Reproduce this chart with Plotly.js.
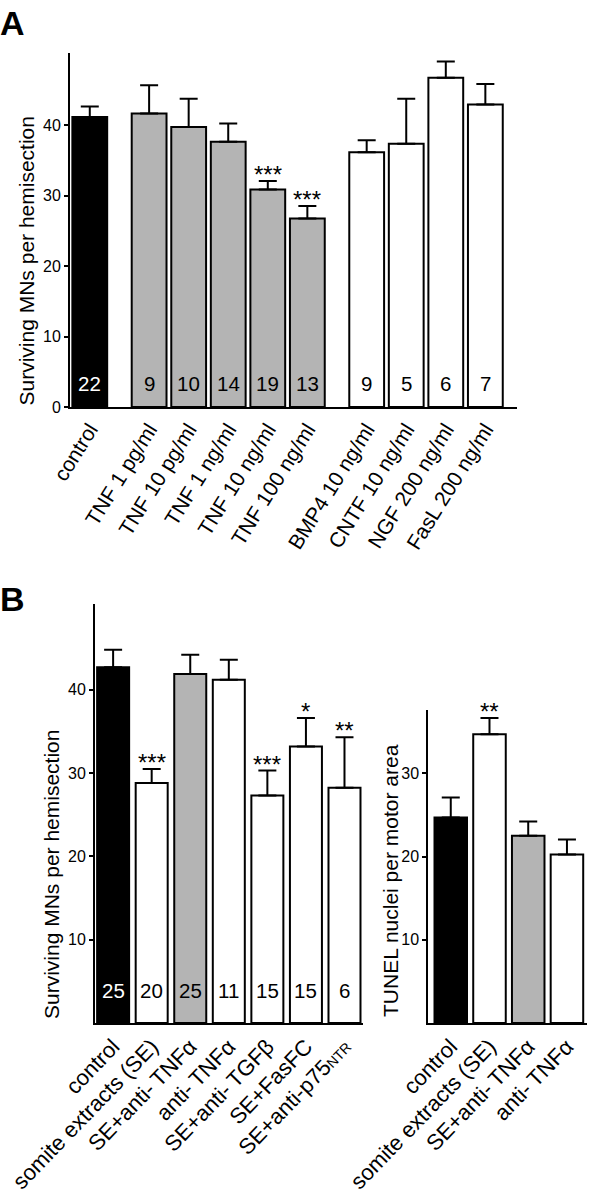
<!DOCTYPE html>
<html>
<head>
<meta charset="utf-8">
<script src="https://cdn.plot.ly/plotly-3.0.1.min.js"></script>
<style>html,body{margin:0;padding:0;background:#fff;}#chart{width:600px;height:1200px;}</style>
</head>
<body>
<div id="chart"></div>
<script>
// ---------- DATA ----------
// Panel A
const catA = ['control', 'TNF 1 pg/ml', 'TNF 10 pg/ml', 'TNF 1 ng/ml', 'TNF 10 ng/ml', 'TNF 100 ng/ml',
              'BMP4 10 ng/ml', 'CNTF 10 ng/ml', 'NGF 200 ng/ml', 'FasL 200 ng/ml'];
const groupA = ['control', 'TNF', 'TNF', 'TNF', 'TNF', 'TNF', 'other', 'other', 'other', 'other'];
const meanA = [41.2, 41.7, 39.8, 37.7, 30.9, 26.8, 36.2, 37.4, 46.8, 43.0];
const semA = [1.5, 4.0, 4.0, 2.6, 1.2, 1.75, 1.7, 6.4, 2.3, 2.9];
const nA = [22, 9, 10, 14, 19, 13, 9, 5, 6, 7];
const sigA = ['', '', '', '', '***', '***', '', '', '', ''];

// Panel B, left
const catB = ['control', 'somite extracts (SE)', 'SE+anti-\u2009TNFα', 'anti-\u2009TNFα', 'SE+anti-\u2009TGFβ', 'SE+FasFC',
              'SE+anti-p75<span style="font-size:14px">NTR</span>'];
const groupB = ['control', 'SE', 'SE+antiTNF', 'other', 'other', 'other', 'other'];
const meanB = [42.7, 28.8, 41.9, 41.2, 27.3, 33.2, 28.25];
const semB = [2.1, 1.7, 2.3, 2.4, 3.0, 3.4, 6.05];
const nB = [25, 20, 25, 11, 15, 15, 6];
const sigB = ['', '***', '', '', '***', '*', '**'];

// Panel B, right
const catC = ['control', 'somite extracts (SE)', 'SE+anti-\u2009TNFα', 'anti-\u2009TNFα'];
const groupC = ['control', 'SE', 'SE+antiTNF', 'other'];
const meanC = [24.7, 34.7, 22.5, 20.25];
const semC = [2.4, 1.95, 1.7, 1.8];
const sigC = ['', '**', '', ''];

const yTitleA = 'Surviving MNs per hemisection';
const yTitleC = 'TUNEL nuclei per motor area';

// ---------- STYLE ----------
const FONT = 'Liberation Sans, Arial, Helvetica, sans-serif';
const fillOf = {control: '#000000', TNF: '#b4b4b4', 'SE+antiTNF': '#b4b4b4', SE: '#ffffff', other: '#ffffff'};
const textOf = {control: '#ffffff', TNF: '#000000', 'SE+antiTNF': '#000000', SE: '#000000', other: '#000000'};

// positions: a half-slot gap wherever the group changes (panel A)
function gappedPositions(groups) {
  let shift = 0;
  return groups.map((g, i) => {
    if (i > 0 && groups[i - 1] !== g) shift += 0.5;
    return i + shift;
  });
}
const posA = gappedPositions(groupA);
const posB = catB.map((_, i) => i);
const posC = catC.map((_, i) => i);

function barTrace(pos, mean, sem, groups, xa, ya, w) {
  return {
    type: 'bar', x: pos, y: mean, xaxis: xa, yaxis: ya, width: w,
    marker: {color: groups.map(g => fillOf[g]), line: {color: '#000', width: 2}},
    error_y: {type: 'data', symmetric: false, array: sem, arrayminus: sem.map(() => 0),
              color: '#000', thickness: 2, width: 9},
    hoverinfo: 'skip'
  };
}

const data = [
  barTrace(posA, meanA, semA, groupA, 'x', 'y', 0.88),
  barTrace(posB, meanB, semB, groupB, 'x2', 'y2', 0.83),
  barTrace(posC, meanC, semC, groupC, 'x3', 'y3', 0.84)
];

const annotations = [];
// n labels
nA.forEach((n, i) => annotations.push({xref: 'x', yref: 'y', x: posA[i], y: 3.4, text: String(n), showarrow: false,
  yanchor: 'middle', font: {family: FONT, size: 20.5, color: textOf[groupA[i]]}}));
nB.forEach((n, i) => annotations.push({xref: 'x2', yref: 'y2', x: posB[i], y: 3.96, text: String(n), showarrow: false,
  yanchor: 'middle', font: {family: FONT, size: 20.5, color: textOf[groupB[i]]}}));
// significance stars
function stars(sig, pos, mean, sem, xa, ya) {
  sig.forEach((s, i) => { if (s) annotations.push({xref: xa, yref: ya, x: pos[i], y: mean[i] + sem[i], text: s,
    showarrow: false, yanchor: 'bottom', yshift: -9, font: {family: FONT, size: 24, color: '#000'}}); });
}
stars(sigA, posA, meanA, semA, 'x', 'y');
stars(sigB, posB, meanB, semB, 'x2', 'y2');
stars(sigC, posC, meanC, semC, 'x3', 'y3');
// y titles
function yTitle(text, px, py) {
  annotations.push({xref: 'paper', yref: 'paper', x: px / 600, y: 1 - py / 1200, text: text, textangle: -90,
    showarrow: false, xanchor: 'center', yanchor: 'middle', font: {family: FONT, size: 21, color: '#000'}});
}
yTitle(yTitleA, 26, 261.5);
yTitle(yTitleA, 51, 875);
yTitle(yTitleC, 390, 881);
// panel letters
annotations.push({xref: 'paper', yref: 'paper', x: -0.003, y: 1 - 2 / 1200, xanchor: 'left', yanchor: 'top', text: '<b>A</b>',
  showarrow: false, font: {family: FONT, size: 34, color: '#000'}});
annotations.push({xref: 'paper', yref: 'paper', x: -0.003, y: 1 - 578 / 1200, xanchor: 'left', yanchor: 'top', text: '<b>B</b>',
  showarrow: false, font: {family: FONT, size: 34, color: '#000'}});

const xBase = {showline: true, linecolor: '#000', linewidth: 2, ticks: '', showgrid: false, zeroline: false,
  ticklabeloverflow: 'allow', tickfont: {family: FONT, size: 21, color: '#000'}, fixedrange: true};
const yBase = {showline: true, linecolor: '#000', linewidth: 2, ticks: 'outside', ticklen: 4, tickwidth: 2,
  tickcolor: '#000', showgrid: false, zeroline: false, tickfont: {family: FONT, size: 16, color: '#000'}, fixedrange: true};

const layout = {
  width: 600, height: 1200, margin: {l: 0, r: 0, t: 0, b: 0},
  paper_bgcolor: '#fff', plot_bgcolor: '#fff', showlegend: false, bargap: 0,
  font: {family: FONT, color: '#000'},
  xaxis: Object.assign({}, xBase, {domain: [70 / 600, 517 / 600], anchor: 'y', range: [-0.5, 10.8],
    tickvals: posA, ticktext: catA, tickangle: -58}),
  yaxis: Object.assign({}, yBase, {domain: [1 - 407 / 1200, 1 - 53 / 1200], anchor: 'x', range: [0, 50.3],
    tickvals: [0, 10, 20, 30, 40]}),
  xaxis2: Object.assign({}, xBase, {domain: [95 / 600, 363 / 600], anchor: 'y2', range: [-0.47, 6.48],
    tickvals: posB, ticktext: catB, tickangle: -46, tickfont: {family: FONT, size: 22, color: '#000'}}),
  yaxis2: Object.assign({}, yBase, {domain: [1 - 1023 / 1200, 1 - 604 / 1200], anchor: 'x2', range: [0, 50.3],
    tickvals: [10, 20, 30, 40]}),
  xaxis3: Object.assign({}, xBase, {domain: [428.3 / 600, 586.7 / 600], anchor: 'y3', range: [-0.58, 3.51],
    tickvals: posC, ticktext: catC, tickangle: -46, tickfont: {family: FONT, size: 22, color: '#000'}}),
  yaxis3: Object.assign({}, yBase, {domain: [1 - 1023 / 1200, 1 - 710 / 1200], anchor: 'x3', range: [0, 37.6],
    tickvals: [10, 20, 30]}),
  annotations: annotations
};

Plotly.newPlot('chart', data, layout, {staticPlot: true, displayModeBar: false});
</script>
</body>
</html>
